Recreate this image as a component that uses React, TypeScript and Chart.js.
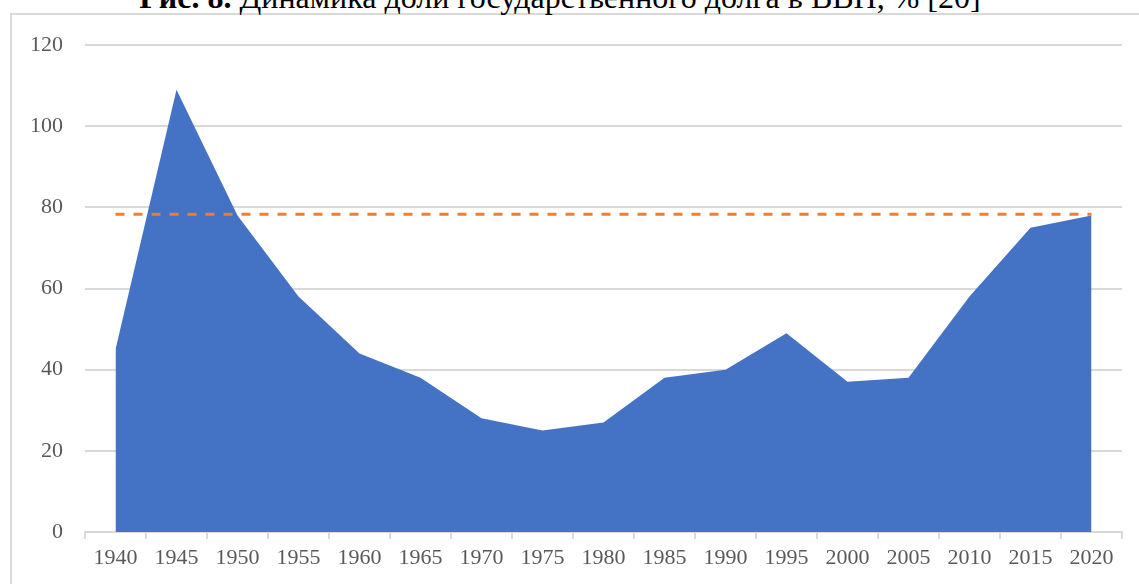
import React, { useEffect, useRef } from "react";
import { Chart, registerables } from "chart.js";

Chart.register(...registerables);

const years = ["1940", "1945", "1950", "1955", "1960", "1965", "1970", "1975", "1980", "1985", "1990", "1995", "2000", "2005", "2010", "2015", "2020"];
const debtShare = [45, 109, 78, 58, 44, 38, 28, 25, 27, 38, 40, 49, 37, 38, 58, 75, 78];
const referenceLevel = years.map(() => 78.3);
const yTicks = [0, 20, 40, 60, 80, 100, 120];

export default function App() {
  const canvasRef = useRef<HTMLCanvasElement | null>(null);

  useEffect(() => {
    document.body.style.margin = "0";
    const ctx = canvasRef.current!.getContext("2d")!;
    const chart = new Chart(ctx, {
      type: "line",
      data: {
        labels: years,
        datasets: [
          {
            data: referenceLevel,
            borderColor: "#ED7D31",
            borderWidth: 3,
            borderDash: [9, 9],
            pointRadius: 0,
            fill: false,
            order: 0,
          },
          {
            data: debtShare,
            backgroundColor: "#4472C4",
            borderColor: "#4472C4",
            borderWidth: 0,
            pointRadius: 0,
            fill: "origin",
            tension: 0,
            order: 1,
          },
        ],
      },
      options: {
        animation: false,
        responsive: false,
        maintainAspectRatio: false,
        layout: { padding: { left: 0, top: 45, right: 17, bottom: 0 } },
        plugins: { legend: { display: false }, tooltip: { enabled: false }, title: { display: false } },
        scales: {
          x: {
            offset: true,
            grid: {
              display: true,
              offset: true,
              drawOnChartArea: false,
              drawTicks: true,
              tickLength: 7,
              color: "#D9D9D9",
              lineWidth: 2,
            },
            border: { display: true, color: "#D9D9D9", width: 2 },
            ticks: {
              color: "#595959",
              font: { family: "Liberation Serif", size: 22 },
              padding: 6,
              maxRotation: 0,
              autoSkip: false,
            },
            afterFit: (scale: any) => {
              scale.height = 52;
            },
          },
          y: {
            min: 0,
            max: 120,
            afterBuildTicks: (scale: any) => {
              scale.ticks = yTicks.map((v) => ({ value: v }));
            },
            grid: { color: "#D9D9D9", lineWidth: 2, drawTicks: false },
            border: { display: false },
            ticks: {
              color: "#595959",
              font: { family: "Liberation Serif", size: 22 },
              padding: 22,
            },
            afterFit: (scale: any) => {
              scale.width = 85;
            },
          },
        },
      },
    });
    return () => chart.destroy();
  }, []);

  return (
    <div style={{ position: "absolute", left: 0, top: 0, width: 1139, height: 584, overflow: "hidden", background: "#fff" }}>
      <div
        style={{
          position: "absolute",
          left: 10,
          top: 13,
          width: 1200,
          height: 700,
          borderLeft: "2px solid #D9D9D9",
          borderTop: "2px solid #D9D9D9",
        }}
      />
      <div
        style={{
          position: "absolute",
          left: 0,
          width: 1120,
          top: -19,
          textAlign: "center",
          fontFamily: "'Liberation Serif'",
          fontSize: 32,
          lineHeight: "32px",
          color: "#000",
          whiteSpace: "nowrap",
        }}
      >
        <b>Рис. 8.</b> Динамика доли государственного долга в ВВП, % [20]
      </div>
      <canvas ref={canvasRef} width={1139} height={584} style={{ position: "absolute", left: 0, top: 0 }} />
    </div>
  );
}
